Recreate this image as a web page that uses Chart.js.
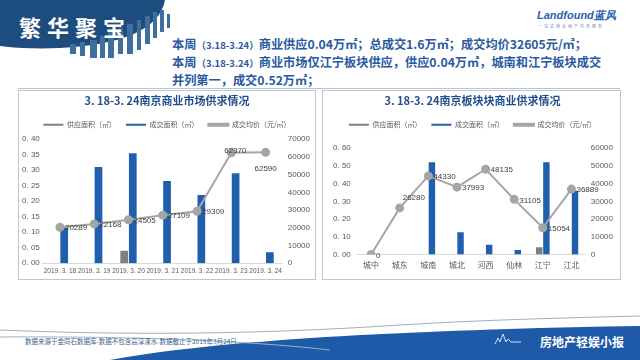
<!DOCTYPE html>
<html>
<head>
<meta charset="utf-8">
<script src="https://cdn.jsdelivr.net/npm/chart.js@4.4.0/dist/chart.umd.min.js"></script>
<style>
  html, body { margin: 0; padding: 0; }
  body { width: 640px; height: 360px; position: relative; overflow: hidden; background: #fff;
         font-family: "Noto Sans CJK SC", "Noto Sans", sans-serif; }
  .deco { position: absolute; left: 0; top: 0; }
  .brand { position: absolute; left: 19px; top: 10px; color: #fff; font-size: 22px; font-weight: bold; letter-spacing: 6px; }
  .logo { position: absolute; left: 537px; top: 8px; color: #2a62b0; font-size: 11px; font-weight: bold; font-style: italic; font-family: "Liberation Sans", sans-serif; }
  .logo-sub { position: absolute; left: 538px; top: 23px; color: #6c8bb8; font-size: 4px; letter-spacing: 2px; }
  .summary { position: absolute; left: 172px; top: 36px; width: 450px; color: #2a5aa0; font-size: 12.2px; font-weight: bold; line-height: 17px; }
  .summary small { font-size: 9.5px; }
  .rule { position: absolute; left: 18px; top: 88px; width: 602px; height: 1px; background: #b9c4d0; }
  .panel { position: absolute; top: 90px; height: 190px; border: 1px solid #b8c8d8; box-sizing: border-box; }
  .panel canvas { position: absolute; left: 0; top: 0; }
  .source { position: absolute; left: 25px; top: 336px; font-size: 6.5px; color: #3f5f8f; }
  .tag { position: absolute; left: 540px; top: 333px; font-size: 12px; color: #fff; font-weight: bold; }
</style>
</head>
<body>
<svg class="deco" width="640" height="360">
  <path d="M0 0 H165 C160 30 120 45 60 48 C35 49 15 48 0 46 Z" fill="#1d4d7e"/>
  <g fill="#3f6f9f">
    <rect x="70" y="44" width="6" height="10"/><rect x="80" y="42" width="5" height="14"/>
    <rect x="90" y="40" width="7" height="18"/><rect x="100" y="36" width="5" height="22"/>
    <rect x="108" y="32" width="6" height="26"/><rect x="118" y="28" width="5" height="26"/>
    <rect x="127" y="24" width="6" height="30"/><rect x="137" y="20" width="4" height="30"/>
    <rect x="145" y="16" width="5" height="28"/><rect x="153" y="12" width="4" height="26"/>
    <rect x="160" y="10" width="4" height="22"/><rect x="167" y="14" width="3" height="14"/>
  </g>
  <path d="M0 330 C120 335 250 335 400 325 C480 320 560 318 640 316" stroke="#9fb0c4" stroke-width="1" fill="none"/>
  <path d="M110 360 C220 340 400 330 640 326 V360 Z" fill="#1e5aa8"/>
  <path d="M0 337 C150 336 260 342 330 350" stroke="#9fb0c4" stroke-width="1" fill="none"/>
  <path d="M495 344 l3 -6 l2 4 l3 -8 l3 8 l2 -3 l3 3 h10" stroke="#ffffff" stroke-width="0.8" fill="none"/>
</svg>
<div class="brand">繁华聚宝</div>
<div class="logo">Landfound蓝风</div>
<div class="logo-sub">一站式商业地产综合服务</div>
<div class="summary">
  本周<small>（3.18-3.24）</small>商业供应0.04万㎡；总成交1.6万㎡；成交均价32605元/㎡；<br>
  本周<small>（3.18-3.24）</small>商业市场仅江宁板块供应，供应0.04万㎡，城南和江宁板块成交<br>
  并列第一，成交0.52万㎡；
</div>
<div class="rule"></div>
<div class="panel" style="left:18px;width:298px;"><canvas id="chartLeft" width="296" height="188"></canvas></div>
<div class="panel" style="left:322px;width:299px;"><canvas id="chartRight" width="297" height="188"></canvas></div>
<div class="source">数据来源于金同石数据库-数据不包含高淳溧水-数据截止于2019年3月24日</div>
<div class="tag">房地产轻娱小报</div>

<script>
// 左图：3.18-3.24 南京商业市场供求情况
var dayLabels = ['2019. 3. 18', '2019. 3. 19', '2019. 3. 20', '2019. 3. 21', '2019. 3. 22', '2019. 3. 23', '2019. 3. 24'];
var daySupply = [0, 0, 0.04, 0, 0, 0, 0];
var dayDeal = [0.115, 0.31, 0.355, 0.265, 0.22, 0.29, 0.035];
var dayPrice = [20289, 22168, 24505, 27109, 29309, 62370, 62590];

// 右图：3.18-3.24 南京板块块商业供求情况
var areaLabels = ['城中', '城东', '城南', '城北', '河西', '仙林', '江宁', '江北'];
var areaSupply = [0, 0, 0, 0, 0, 0, 0.04, 0];
var areaDeal = [0, 0, 0.52, 0.125, 0.055, 0.025, 0.52, 0.36];
var areaPrice = [0, 26280, 44330, 37993, 48135, 31105, 15054, 36889];

var seriesNames = ['供应面积（㎡）', '成交面积（㎡）', '成交均价（元/㎡）'];

var blue = '#1f5fae';
var gray = '#7f7f7f';
var lineGray = '#a5a5a5';
var tickColor = '#595959';

// 均价数据标签 + 图例下方留白
var priceLabels = {
    id: 'priceLabels',
    beforeInit: function(chart, args, opts) {
        var extra = opts.legendGap || 0;
        var origFit = chart.legend.fit;
        chart.legend.fit = function() {
            origFit.call(this);
            this.height += extra;
        };
    },
    afterDatasetsDraw: function(chart, args, opts) {
        var ctx = chart.ctx;
        var meta = chart.getDatasetMeta(2);
        var data = chart.data.datasets[2].data;
        ctx.save();
        ctx.font = '8px "Liberation Sans", sans-serif';
        ctx.fillStyle = '#404040';
        ctx.textBaseline = 'middle';
        meta.data.forEach(function(pt, i) {
            var pos = (opts.pos && opts.pos[i]) || 'right';
            var txt = String(data[i]);
            if (pos === 'above') {
                ctx.textAlign = 'center';
                ctx.fillText(txt, pt.x + 4, pt.y - 2);
            } else if (pos === 'below') {
                ctx.textAlign = 'center';
                ctx.fillText(txt, pt.x, pt.y + 16);
            } else if (pos === 'aboveRight') {
                ctx.textAlign = 'left';
                ctx.fillText(txt, pt.x + 3, pt.y - 10);
            } else {
                ctx.textAlign = 'left';
                ctx.fillText(txt, pt.x + 5, pt.y + 1);
            }
        });
        ctx.restore();
    }
};

function makeChart(id, title, labels, supply, deal, price, leftMax, leftStep, rightMax, rightStep, labelPos, pad, xFont, xPad, legendGap, yPad) {
    var ctx = document.getElementById(id).getContext('2d');
    return new Chart(ctx, {
        type: 'bar',
        data: {
            labels: labels,
            datasets: [{
                label: seriesNames[0],
                data: supply,
                backgroundColor: gray,
                yAxisID: 'y',
                order: 2,
                categoryPercentage: 0.5,
                barPercentage: 0.9
            }, {
                label: seriesNames[1],
                data: deal,
                backgroundColor: blue,
                yAxisID: 'y',
                order: 2,
                categoryPercentage: 0.5,
                barPercentage: 0.9
            }, {
                type: 'line',
                label: seriesNames[2],
                data: price,
                borderColor: lineGray,
                backgroundColor: lineGray,
                borderWidth: 2,
                pointRadius: 3.5,
                pointBackgroundColor: lineGray,
                pointBorderColor: lineGray,
                yAxisID: 'y1',
                order: 1,
                tension: 0
            }]
        },
        options: {
            responsive: false,
            animation: false,
            layout: { padding: pad },
            plugins: {
                title: {
                    display: true,
                    text: title,
                    color: '#1f4e8c',
                    font: { size: 11, weight: 'bold', family: '"Noto Sans CJK SC", sans-serif' },
                    padding: { top: 3, bottom: 4 }
                },
                legend: {
                    display: true,
                    labels: {
                        boxWidth: 20,
                        boxHeight: 2,
                        color: tickColor,
                        font: { size: 7, family: '"Noto Sans CJK SC", sans-serif' },
                        padding: 10,
                        sort: function(a, b) { return a.datasetIndex - b.datasetIndex; }
                    }
                },
                tooltip: { enabled: false },
                priceLabels: { pos: labelPos, legendGap: legendGap }
            },
            scales: {
                x: {
                    grid: { display: false, drawTicks: false },
                    border: { color: '#d9d9d9' },
                    ticks: { color: tickColor, font: xFont, maxRotation: 0, autoSkip: false, padding: xPad }
                },
                y: {
                    position: 'left',
                    min: 0,
                    max: leftMax,
                    grid: { display: false, drawTicks: false },
                    border: { display: false },
                    ticks: {
                        stepSize: leftStep,
                        color: tickColor,
                        font: { size: 8, family: '"Liberation Sans", sans-serif' },
                        padding: yPad,
                        callback: function(v) { return v.toFixed(2).replace('.', '. '); }
                    }
                },
                y1: {
                    position: 'right',
                    min: 0,
                    max: rightMax,
                    grid: { display: false, drawTicks: false },
                    border: { display: false },
                    ticks: {
                        stepSize: rightStep,
                        color: tickColor,
                        font: { size: 8, family: '"Liberation Sans", sans-serif' },
                        padding: 5,
                        callback: function(v) { return String(v); }
                    }
                }
            }
        },
        plugins: [priceLabels]
    });
}

makeChart('chartLeft', '3. 18-3. 24南京商业市场供求情况', dayLabels, daySupply, dayDeal, dayPrice,
    0.40, 0.05, 70000, 10000,
    ['right', 'right', 'right', 'right', 'right', 'above', 'below'],
    { left: 0, right: 0, top: 0, bottom: 0 },
    { size: 6.5, family: '"Liberation Sans", sans-serif' }, 4, 1, 3);

makeChart('chartRight', '3. 18-3. 24南京板块块商业供求情况', areaLabels, areaSupply, areaDeal, areaPrice,
    0.60, 0.10, 60000, 10000,
    ['right', 'aboveRight', 'right', 'right', 'right', 'right', 'right', 'right'],
    { left: 4, right: 2, top: 0, bottom: 3 },
    { size: 8, family: '"Noto Sans CJK SC", sans-serif' }, 6, 10, 6);
</script>
</body>
</html>
